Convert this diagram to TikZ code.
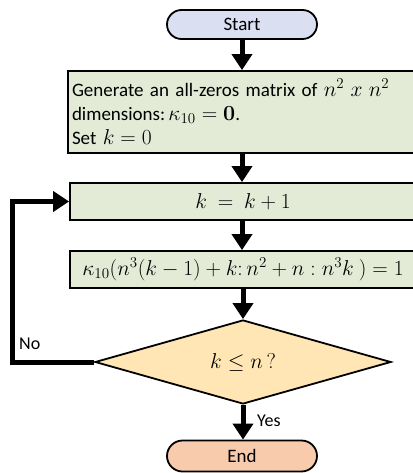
\RequirePackage{fix-cm}
\documentclass[tikz,border=0pt]{standalone}
\usepackage[no-math]{fontspec}
\setmainfont{Carlito}
\usetikzlibrary{shapes.geometric,shapes.misc,arrows.meta}
\definecolor{boxgreen}{HTML}{E3EBD7}
\definecolor{startblue}{HTML}{DADFF2}
\definecolor{decyellow}{HTML}{FFE6B4}
\definecolor{endorange}{HTML}{F8CBAD}
\newcommand\mth[1]{{\fontsize{21.5}{24}\selectfont$#1$}}
\tikzset{
  base/.style={draw=black, line width=1.8pt, inner sep=0pt, font=\fontsize{19}{24}\selectfont},
  term/.style={base, rounded rectangle, minimum width=150pt},
  procbox/.style={base, rectangle, fill=boxgreen, minimum width=346pt},
  decbox/.style={base, diamond, fill=decyellow, minimum width=296pt, minimum height=84pt, aspect=3.5},
  flow/.style={line width=5pt, -{Triangle[width=20pt,length=16pt]}},
  lbl/.style={font=\fontsize{18}{22}\selectfont, inner sep=0pt}
}
\begin{document}
\begin{tikzpicture}[x=1pt,y=-1pt]
\useasboundingbox (0,0) rectangle (412,473);
\node[term, fill=startblue, minimum height=29pt] (start) at (242,24.5) {Start};
\node[procbox, minimum width=348pt, minimum height=82pt, text width=340pt, align=left] (init) at (242,112)
  {Generate an all-zeros matrix of \mth{n^2\ x\ n^2}\\dimensions:\,\mth{\kappa_{10}=\mathbf{0}}.\\Set \mth{k=0}};
\node[procbox, minimum height=37pt] (inc) at (243,201.5) {\mth{k\ =\ k+1}};
\node[procbox, minimum height=37pt] (set) at (243,269.5) {\mth{\kappa_{10}(n^3(k-1)+k\colon n^2+n:n^3k\ )=1}};
\node[decbox] (dec) at (243,362) {\mth{k\le n\,?}};
\node[term, fill=endorange, minimum height=31pt] (end) at (242,456) {End};
\draw[flow] (start.south) -- (init.north);
\draw[flow] (init.south) -- (init.south |- inc.north);
\draw[flow] (inc.south -| init.south) -- (set.north -| init.south);
\draw[flow] (set.south -| dec.north) -- (dec.north);
\draw[flow] (dec.south) -- (end.north -| dec.south);
\coordinate (turn) at (12,362);
\draw[flow, line join=miter] (dec.west) -- (turn) |- (inc.west);
\node[lbl, anchor=west] (no) at (19,344) {No};
\node[lbl, anchor=west] (yes) at (257,421) {Yes};
\end{tikzpicture}
\end{document}
